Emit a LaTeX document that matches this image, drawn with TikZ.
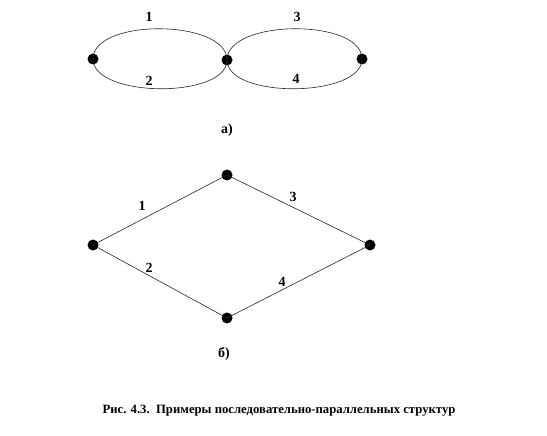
\documentclass[tikz,border=0pt]{standalone}
\usepackage{fontspec}
\setmainfont{Liberation Serif}
\begin{document}
\begin{tikzpicture}[x=1pt,y=-1pt,
  dot/.style={circle,fill=black,inner sep=0pt,minimum size=11pt},
  lbl/.style={font=\bfseries\fontsize{14}{14}\selectfont,inner sep=0pt},
  edge/.style={line width=0.6pt,black!85}]
\useasboundingbox (0,0) rectangle (547,436);
% a)
\node[dot] (a1) at (93,59) {};
\node[dot] (a2) at (227,60) {};
\node[dot] (a3) at (362,59) {};
\draw[edge] (a1.center) .. controls +(0,-41) and +(0,-41) .. (a2.center);
\draw[edge] (a1.center) .. controls +(0,39) and +(0,39) .. (a2.center);
\draw[edge] (a2.center) .. controls +(0,-41) and +(0,-41) .. (a3.center);
\draw[edge] (a2.center) .. controls +(0,39) and +(0,39) .. (a3.center);
\node[lbl] (l1) at (149,17) {1};
\node[lbl] (l2) at (149,81) {2};
\node[lbl] (l3) at (297,17) {3};
\node[lbl] (l4) at (296,79) {4};
\node[lbl] (ca) at (227,130) {а)};
% b)
\node[dot] (b1) at (93,245) {};
\node[dot] (b2) at (227,175) {};
\node[dot] (b3) at (370,245) {};
\node[dot] (b4) at (227,318) {};
\draw[edge] (b1.center) -- (b2.center);
\draw[edge] (b2.center) -- (b3.center);
\draw[edge] (b1.center) -- (b4.center);
\draw[edge] (b4.center) -- (b3.center);
\node[lbl] (m1) at (142,206) {1};
\node[lbl] (m3) at (293,197) {3};
\node[lbl] (m2) at (149,268) {2};
\node[lbl] (m4) at (282,282) {4};
\node[lbl] (cb) at (224,354) {б)};
\node[lbl,font=\bfseries\fontsize{12.7}{13}\selectfont] (cap) at (279,411) {Рис. 4.3.\ \ Примеры последовательно-параллельных структур};
\end{tikzpicture}
\end{document}
